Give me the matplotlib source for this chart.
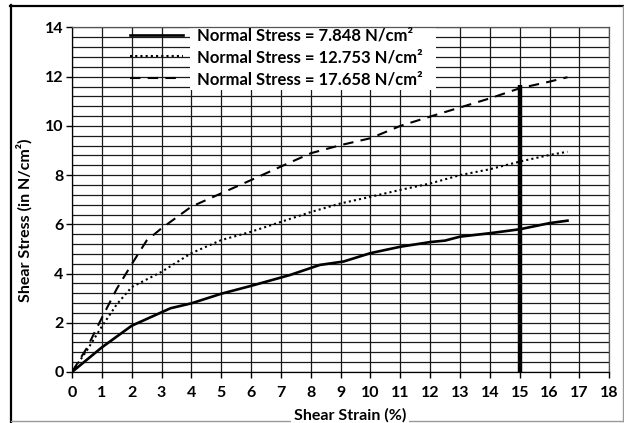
import matplotlib.pyplot as plt
import numpy as np
from matplotlib.lines import Line2D
from matplotlib.patches import Rectangle

plt.rcParams['font.family'] = ['Lato', 'DejaVu Sans']
plt.rcParams['font.weight'] = 'bold'

# Shear strain (%) vs shear stress (N/cm2) for three normal stresses
strain_1 = [0, 1, 2, 3.3, 4, 5, 6, 7.3, 8.3, 9.1, 10, 11, 12, 12.5, 13, 14, 15, 16, 16.6]
stress_1 = [0, 1.0, 1.88, 2.59, 2.79, 3.18, 3.5, 3.94, 4.35, 4.49, 4.83, 5.09, 5.28, 5.34, 5.5, 5.64, 5.8, 6.05, 6.15]

strain_2 = [0, 0.5, 1, 1.5, 2, 3, 4, 5, 6, 7, 8, 9, 10, 11, 12, 13, 14, 15, 16, 16.6]
stress_2 = [0, 0.88, 1.85, 2.75, 3.45, 4.07, 4.83, 5.36, 5.7, 6.1, 6.5, 6.85, 7.12, 7.4, 7.66, 8.0, 8.24, 8.55, 8.82, 8.95]

strain_3 = [0, 0.5, 1, 1.5, 2, 2.5, 3, 4, 5, 6, 7, 8, 9, 10, 11, 12, 13, 14, 15, 16, 16.6]
stress_3 = [0, 0.98, 2.2, 3.38, 4.38, 5.34, 5.84, 6.72, 7.26, 7.8, 8.35, 8.89, 9.22, 9.5, 10.0, 10.38, 10.75, 11.12, 11.53, 11.8, 11.98]

labels = ['Normal Stress = 7.848 N/cm²',
          'Normal Stress = 12.753 N/cm²',
          'Normal Stress = 17.658 N/cm²']

# thick marker line at 15 % strain
limit_x = [15, 15]
limit_y = [0, 11.67]

fig = plt.figure(figsize=(6.24, 4.23), dpi=100)
ax = fig.add_axes([0.1154, 0.1206, 0.8610, 0.8144])

ax.plot(strain_1, stress_1, color='black', lw=1.9, label=labels[0], zorder=4)
ax.plot(strain_2, stress_2, color='black', lw=1.5, linestyle=(0, (1, 1.5)), label=labels[1], zorder=4)
ax.plot(strain_3, stress_3, color='black', lw=1.5, linestyle=(0, (5, 3.5)), label=labels[2], zorder=4)
ax.plot(limit_x, limit_y, color='black', lw=3.2, solid_capstyle='butt', zorder=5)

ax.set_xlim(0, 18)
ax.set_ylim(0, 14)
ax.set_xticks(np.arange(0, 19, 1))
ax.set_yticks(np.arange(0, 15, 2))
ax.set_yticks(np.arange(0, 14.01, 0.4), minor=True)
ax.tick_params(axis='both', which='major', direction='out', length=4, width=1, labelsize=11.5)
ax.tick_params(axis='x', which='major', pad=6)
ax.tick_params(axis='y', which='major', pad=2)
ax.tick_params(axis='y', which='minor', length=0)
for lab in ax.get_xticklabels() + ax.get_yticklabels():
    lab.set_fontweight('bold')

ax.grid(True, which='major', color='#1a1a1a', lw=0.9, zorder=1)
ax.grid(True, which='minor', axis='y', color='#1a1a1a', lw=0.9, zorder=1)
ax.set_axisbelow(True)
for s in ax.spines.values():
    s.set_color('#555555')
    s.set_linewidth(0.9)
ax.spines['left'].set_color('black')
ax.spines['bottom'].set_color('black')

# white area behind the legend text
ax.add_patch(Rectangle((3.95, 11.45), 8.25, 2.65, facecolor='white',
                       edgecolor='none', zorder=2, clip_on=False))

ax.set_xlabel('Shear Strain (%)', fontsize=11.5, fontweight='bold',
              bbox=dict(facecolor='white', edgecolor='none', pad=2))
ax.xaxis.set_label_coords(0.518, -0.105)
ax.set_ylabel('Shear Stress (in N/cm²)', fontsize=11.5, fontweight='bold',
              bbox=dict(facecolor='white', edgecolor='none', pad=2))
ax.yaxis.set_label_coords(-0.073, 0.44)

leg = ax.legend(loc='upper left', bbox_to_anchor=(0.2083, 0.935),
                bbox_transform=fig.transFigure, frameon=False, fontsize=12,
                handlelength=3.2, handletextpad=0.8, labelspacing=0.35,
                borderpad=0, borderaxespad=0)
leg.set_zorder(6)
for t in leg.get_texts():
    t.set_fontweight('bold')

# outer chart border
fig.add_artist(Line2D([10 / 624, 1], [1 - 6 / 423, 1 - 6 / 423], color='black', lw=1.6, zorder=-1))
fig.add_artist(Line2D([11 / 624, 11 / 624], [1 - 5 / 423, 1 - 422 / 423], color='black', lw=1.6, zorder=-1))
fig.add_artist(Line2D([622.5 / 624, 622.5 / 624], [1 - 6 / 423, 1 - 421 / 423], color='#999999', lw=1, zorder=-1))
fig.add_artist(Line2D([11 / 624, 623 / 624], [1 - 421 / 423, 1 - 421 / 423], color='#999999', lw=1, zorder=-1))

fig.savefig('out.png', dpi=100)
